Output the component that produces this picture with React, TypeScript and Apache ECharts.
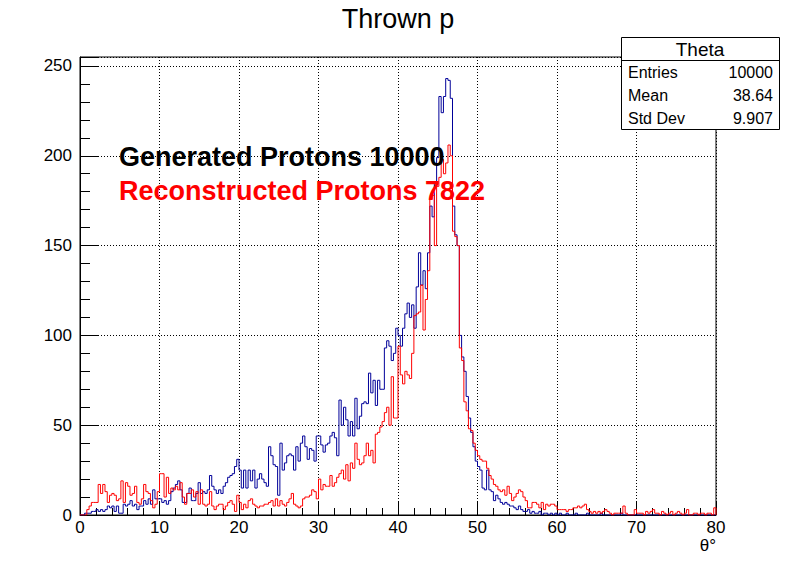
import React, { useEffect, useRef } from 'react';
import * as echarts from 'echarts';

// Histogram range (theta in degrees) and bin contents
const xMin = 0;
const xMax = 80;
const yMax = 255;

// Generated protons (blue), bins covering 0-20, 20-40, 40-60, 60-80 deg
const generatedA = [
  0, 0, 1, 1, 1, 2, 2, 3, 2, 3,
  2, 3, 5, 4, 5, 2, 5, 1, 1, 6,
  5, 6, 8, 5, 6, 3, 5, 5, 8, 6,
  9, 6, 14, 9, 9, 9, 7, 8, 6, 8,
  13, 15, 17, 19, 14, 7, 7, 12, 15, 8,
  8, 12, 18, 12, 13, 12, 14, 22, 16, 14,
  12, 14, 12, 16, 18, 21, 22, 23, 27, 31,
];
const generatedB = [
  25, 15, 25, 15, 25, 19, 25, 15, 20, 23,
  20, 18, 16, 38, 33, 28, 27, 11, 40, 25,
  29, 33, 34, 33, 25, 38, 30, 40, 44, 38,
  31, 37, 36, 30, 44, 44, 39, 35, 39, 40,
  44, 46, 43, 33, 64, 50, 60, 53, 44, 52,
  44, 65, 48, 55, 62, 63, 62, 79, 68, 75,
  61, 75, 70, 70, 93, 97, 94, 86, 90, 104,
];
const generatedC = [
  100, 94, 104, 112, 118, 110, 117, 104, 127, 146,
  128, 136, 126, 146, 172, 166, 185, 199, 233, 224,
  233, 243, 242, 232, 172, 156, 150, 100, 88, 80,
  66, 54, 46, 38, 30, 27, 25, 15, 14, 25,
  14, 13, 8, 11, 9, 7, 6, 7, 6, 5,
  5, 4, 3, 5, 3, 2, 2, 3, 1, 2,
  1, 1, 2, 0, 1, 1, 0, 1, 0, 1,
];
const generatedD = [
  0, 1, 0, 0, 1, 0, 0, 0, 1, 0,
  0, 0, 0, 1, 0, 0, 0, 0, 0, 1,
  0, 0, 0, 0, 0, 0, 0, 0, 1, 0,
  0, 0, 0, 0, 0, 0, 0, 0, 0, 0,
  0, 0, 0, 0, 0, 0, 0, 0, 0, 0,
  0, 0, 0, 0, 0, 0, 0, 0, 0, 0,
  0, 0, 0, 0, 0, 0, 0, 0, 0, 0,
];

// Reconstructed protons (red)
const reconstructedA = [
  0, 0, 0, 3, 5, 7, 7, 7, 17, 12,
  17, 13, 7, 11, 12, 11, 8, 9, 19, 7,
  18, 16, 11, 12, 16, 7, 6, 9, 17, 13,
  12, 8, 4, 6, 13, 23, 23, 10, 21, 12,
  15, 14, 16, 14, 18, 10, 6, 12, 12, 14,
  10, 13, 6, 14, 6, 5, 6, 13, 5, 3,
  5, 6, 6, 3, 5, 7, 8, 6, 2, 11,
];
const reconstructedB = [
  7, 3, 6, 4, 8, 9, 6, 5, 4, 5,
  5, 6, 6, 7, 8, 5, 9, 5, 8, 6,
  5, 7, 9, 12, 6, 5, 4, 5, 9, 10,
  10, 11, 14, 13, 9, 20, 14, 17, 16, 16,
  22, 16, 18, 21, 23, 25, 20, 28, 19, 29,
  26, 40, 31, 28, 29, 33, 40, 33, 36, 29,
  45, 46, 49, 52, 57, 60, 50, 77, 54, 54,
];
const reconstructedC = [
  94, 78, 73, 80, 78, 76, 90, 111, 112, 113,
  128, 103, 120, 136, 176, 178, 150, 183, 188, 198,
  190, 196, 206, 200, 158, 155, 150, 93, 86, 63,
  58, 48, 47, 40, 36, 33, 31, 30, 30, 26,
  22, 20, 17, 16, 14, 13, 14, 11, 16, 12,
  8, 10, 12, 14, 13, 10, 8, 4, 4, 7,
  7, 6, 4, 7, 3, 6, 5, 6, 6, 5,
];
const reconstructedD = [
  3, 3, 3, 3, 2, 3, 3, 4, 4, 5,
  4, 5, 6, 3, 2, 1, 2, 1, 2, 1,
  2, 3, 2, 1, 0, 1, 1, 1, 1, 5,
  1, 0, 0, 0, 3, 1, 1, 1, 0, 2,
  1, 2, 3, 1, 1, 0, 2, 1, 0, 1,
  2, 0, 1, 2, 1, 0, 1, 3, 0, 0,
  1, 1, 0, 1, 1, 0, 1, 1, 0, 4,
];

const generated = [...generatedA, ...generatedB, ...generatedC, ...generatedD];
const reconstructed = [...reconstructedA, ...reconstructedB, ...reconstructedC, ...reconstructedD];

const titleText = 'Thrown p';
const xAxisTitle = 'θ°';
const legendTexts = ['Generated Protons 10000', 'Reconstructed Protons 7822'];
const statsTitle = 'Theta';
const statsLabels = ['Entries', 'Mean', 'Std Dev'];
const statsValues = ['10000', '38.64', '9.907'];

const FONT = '"Liberation Sans", Arial, Helvetica, sans-serif';

function histPoints(vals: number[]): number[][] {
  const w = (xMax - xMin) / vals.length;
  const pts: number[][] = [[xMin, 0]];
  vals.forEach((v, i) => pts.push([xMin + i * w, v]));
  pts.push([xMax, vals[vals.length - 1]]);
  pts.push([xMax, 0]);
  return pts;
}

export default function App() {
  const ref = useRef<HTMLDivElement>(null);

  useEffect(() => {
    document.body.style.margin = '0';
    if (!ref.current) return;
    const chart = echarts.init(ref.current, null, { renderer: 'svg' });

    const gridLeft = 80;
    const gridTop = 57;
    const gridRight = 80;
    const gridBottom = 57;

    const dotted = { color: '#000', width: 1, type: [1, 2] as any };

    const statsX = 621;
    const statsY = 37;
    const statsW = 158;
    const rowH = 23;

    const graphics: any[] = [
      {
        type: 'text',
        x: 398,
        y: 19,
        z: 100,
        style: {
          text: titleText,
          font: `27px ${FONT}`,
          fill: '#000',
          align: 'center',
          verticalAlign: 'middle',
          textAlign: 'center',
          textVerticalAlign: 'middle',
        },
      },
      {
        type: 'text',
        x: 716,
        y: 545,
        z: 100,
        style: {
          text: xAxisTitle,
          font: `17px ${FONT}`,
          fill: '#000',
          align: 'right',
          verticalAlign: 'middle',
          textAlign: 'right',
          textVerticalAlign: 'middle',
        },
      },
      ...legendTexts.map((t, i) => ({
        type: 'text',
        x: 119,
        y: 157 + i * 34,
        z: 100,
        style: {
          text: t,
          font: `bold 27px ${FONT}`,
          fill: i === 0 ? '#000' : '#ff0000',
          align: 'left',
          verticalAlign: 'middle',
          textAlign: 'left',
          textVerticalAlign: 'middle',
        },
      })),
      {
        type: 'rect',
        z: 100,
        shape: { x: statsX + 0.5, y: statsY + 0.5, width: statsW, height: rowH * 4 },
        style: { fill: '#fff', stroke: '#000', lineWidth: 1 },
      },
      {
        type: 'line',
        z: 101,
        shape: { x1: statsX + 0.5, y1: statsY + rowH + 0.5, x2: statsX + statsW + 0.5, y2: statsY + rowH + 0.5 },
        style: { stroke: '#000', lineWidth: 1 },
      },
      {
        type: 'text',
        x: statsX + statsW / 2,
        y: statsY + rowH / 2 + 1,
        z: 101,
        style: {
          text: statsTitle,
          font: `19px ${FONT}`,
          fill: '#000',
          align: 'center',
          verticalAlign: 'middle',
          textAlign: 'center',
          textVerticalAlign: 'middle',
        },
      },
      ...statsLabels.map((t, i) => ({
        type: 'text',
        x: statsX + 7,
        y: statsY + rowH * (i + 1) + rowH / 2 + 1,
        z: 101,
        style: {
          text: t,
          font: `16px ${FONT}`,
          fill: '#000',
          align: 'left',
          verticalAlign: 'middle',
          textAlign: 'left',
          textVerticalAlign: 'middle',
        },
      })),
      ...statsValues.map((t, i) => ({
        type: 'text',
        x: statsX + statsW - 6,
        y: statsY + rowH * (i + 1) + rowH / 2 + 1,
        z: 101,
        style: {
          text: t,
          font: `16px ${FONT}`,
          fill: '#000',
          align: 'right',
          verticalAlign: 'middle',
          textAlign: 'right',
          textVerticalAlign: 'middle',
        },
      })),
    ];

    chart.setOption({
      animation: false,
      backgroundColor: '#fff',
      grid: {
        left: gridLeft,
        top: gridTop,
        right: gridRight,
        bottom: gridBottom,
        show: true,
        borderColor: '#000',
        borderWidth: 1,
        backgroundColor: 'transparent',
      },
      xAxis: {
        type: 'value',
        min: xMin,
        max: xMax,
        interval: 10,
        axisLine: { show: true, onZero: false, lineStyle: { color: '#000', width: 1 } },
        axisTick: { show: true, inside: true, length: 14, lineStyle: { color: '#000', width: 1 } },
        minorTick: { show: true, splitNumber: 5, length: 7, lineStyle: { color: '#000', width: 1 } },
        axisLabel: { color: '#000', fontSize: 17, fontFamily: FONT, margin: 4 },
        splitLine: { show: true, lineStyle: dotted },
      },
      yAxis: [
        {
          type: 'value',
          min: 0,
          max: yMax,
          interval: 50,
          axisLine: { show: true, onZero: false, lineStyle: { color: '#000', width: 1 } },
          axisTick: { show: true, inside: true, length: 19, lineStyle: { color: '#000', width: 1 } },
          axisLabel: {
            color: '#000',
            fontSize: 17,
            fontFamily: FONT,
            margin: 8,
            formatter: (v: number) => (v % 50 === 0 ? String(v) : ''),
          },
          splitLine: { show: true, lineStyle: dotted },
        },
        {
          type: 'value',
          min: 0,
          max: yMax,
          interval: 10,
          position: 'left',
          axisLine: { show: false },
          axisTick: { show: true, inside: true, length: 10, lineStyle: { color: '#000', width: 1 } },
          axisLabel: { show: false },
          splitLine: { show: false },
        },
      ],
      series: [
        {
          name: 'Generated',
          type: 'line',
          step: 'end',
          data: histPoints(generated),
          showSymbol: false,
          silent: true,
          clip: true,
          lineStyle: { color: '#000099', width: 1 },
          z: 3,
        },
        {
          name: 'Reconstructed',
          type: 'line',
          step: 'end',
          data: histPoints(reconstructed),
          showSymbol: false,
          silent: true,
          clip: true,
          lineStyle: { color: '#ff0000', width: 1 },
          z: 4,
        },
      ],
      graphic: graphics,
    });

    return () => chart.dispose();
  }, []);

  return <div ref={ref} style={{ width: 796, height: 572 }} />;
}
